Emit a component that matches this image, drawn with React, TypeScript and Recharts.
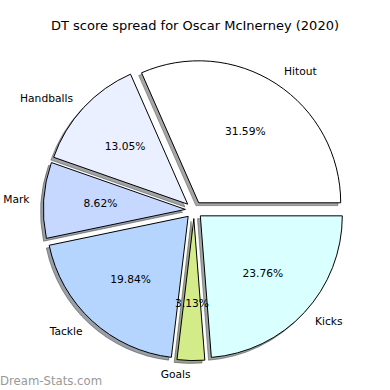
import { PieChart, Pie, Sector } from "recharts"

const categories = ["Hitout", "Handballs", "Mark", "Tackle", "Goals", "Kicks"]
const shares = [31.59, 13.05, 8.62, 19.84, 3.13, 23.76]
const colors = ["#ffffff", "#eaf0ff", "#c6d8ff", "#b5d5ff", "#d4eb8a", "#d9ffff"]

const data = categories.map((name, i) => ({ name, value: shares[i], color: colors[i] }))

const RADIUS = 142
const EXPLODE = 8.6
const SHADOW = 2.8
const RAD = Math.PI / 180
const FONT = "DejaVu Sans, sans-serif"

function shift(midAngle: number, d: number) {
    return { dx: d * Math.cos(-midAngle * RAD), dy: d * Math.sin(-midAngle * RAD) }
}

function darken(hex: string) {
    const n = parseInt(hex.slice(1), 16)
    const r = Math.round(((n >> 16) & 255) * 0.3)
    const g = Math.round(((n >> 8) & 255) * 0.3)
    const b = Math.round((n & 255) * 0.3)
    return `rgb(${r},${g},${b})`
}

function WedgeShape(props: any) {
    const { dx, dy } = shift(props.midAngle, EXPLODE)
    return (
        <Sector
            cx={props.cx + dx}
            cy={props.cy + dy}
            innerRadius={0}
            outerRadius={props.outerRadius}
            startAngle={props.startAngle}
            endAngle={props.endAngle}
            fill={props.payload.color}
            stroke="#000"
            strokeWidth={1}
        />
    )
}

function ShadowShape(props: any) {
    const { dx, dy } = shift(props.midAngle, EXPLODE)
    const c = darken(props.payload.color)
    return (
        <Sector
            cx={props.cx + dx - SHADOW}
            cy={props.cy + dy + SHADOW}
            innerRadius={0}
            outerRadius={props.outerRadius}
            startAngle={props.startAngle}
            endAngle={props.endAngle}
            fill={c}
            fillOpacity={0.5}
            stroke={c}
            strokeOpacity={0.5}
            strokeWidth={1}
        />
    )
}

function renderLabel(props: any) {
    const { cx, cy, midAngle, outerRadius, percent, name } = props
    const c = Math.cos(-midAngle * RAD)
    const s = Math.sin(-midAngle * RAD)
    const lr = outerRadius * 1.1 + EXPLODE
    const pr = outerRadius * 0.6 + EXPLODE
    return (
        <g>
            <text
                x={cx + lr * c}
                y={cy + lr * s}
                textAnchor={c >= 0 ? "start" : "end"}
                dominantBaseline="central"
                fontFamily={FONT}
                fontSize={10.7}
                fill="#000"
            >
                {name}
            </text>
            <text
                x={cx + pr * c}
                y={cy + pr * s}
                textAnchor="middle"
                dominantBaseline="central"
                fontFamily={FONT}
                fontSize={10.7}
                fill="#000"
            >
                {`${(percent * 100).toFixed(2)}%`}
            </text>
        </g>
    )
}

export default function App() {
    const shadowProps: any = { shape: ShadowShape, inactiveShape: ShadowShape, activeShape: ShadowShape }
    const wedgeProps: any = { shape: WedgeShape, inactiveShape: WedgeShape, activeShape: WedgeShape }
    return (
        <div style={{ position: "absolute", left: 0, top: 0, width: 390, height: 390, background: "#fff" }}>
            <PieChart width={390} height={390} margin={{ top: 0, right: 0, bottom: 0, left: 0 }}>
                <text x={195} y={25} textAnchor="middle" dominantBaseline="central" fontFamily={FONT} fontSize={13} fill="#000">
                    DT score spread for Oscar McInerney (2020)
                </text>
                <Pie
                    data={data}
                    dataKey="value"
                    nameKey="name"
                    cx={194}
                    cy={210}
                    outerRadius={RADIUS}
                    startAngle={0}
                    endAngle={360}
                    {...shadowProps}
                    isAnimationActive={false}
                />
                <Pie
                    data={data}
                    dataKey="value"
                    nameKey="name"
                    cx={194}
                    cy={210}
                    outerRadius={RADIUS}
                    startAngle={0}
                    endAngle={360}
                    {...wedgeProps}
                    label={renderLabel}
                    labelLine={false}
                    isAnimationActive={false}
                />
                <text x={0} y={381} dominantBaseline="central" fontFamily={FONT} fontSize={11.7} fill="#999">
                    Dream-Stats.com
                </text>
            </PieChart>
        </div>
    )
}
